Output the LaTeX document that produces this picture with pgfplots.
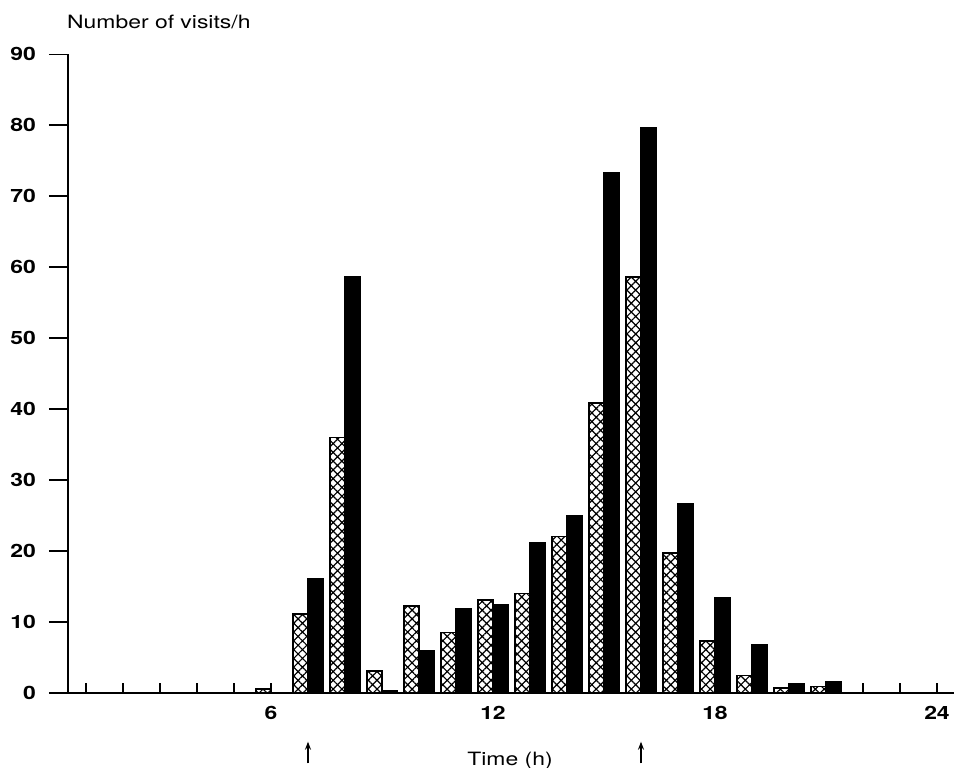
\documentclass[border=0pt]{standalone}
\usepackage{fontspec}
\setmainfont{TeX Gyre Heros}[FakeStretch=1.25]
\usepackage{pgfplots}
\pgfplotsset{compat=1.18}
\usetikzlibrary{patterns,patterns.meta,arrows.meta}
\begin{document}
\begin{tikzpicture}
\pgfplotsset{
  common/.style={
    at={(0,0)}, anchor=south west,
    scale only axis, width=452.5bp, height=319.2bp,
    xmin=0, xmax=24.46, ymin=0, ymax=90,
    tick align=inside,
    tick style={black, line width=0.8bp},
    ticklabel style={font=\fontsize{9.2}{11}\selectfont\bfseries},
    /pgf/number format/assume math mode=true,
    clip=false,
  }
}
% y ticks and labels
\begin{axis}[common,
  axis x line=none, axis y line*=left,
  y axis line style={draw=none},
  major tick length=9.25bp,
  ytick={0,10,...,90},
  yticklabel style={xshift=-3bp},
]
\end{axis}
% main axis with bars
\begin{axis}[common,
  axis x line*=bottom, axis y line=none,
  x axis line style={line width=1bp},
  xtick={6,12,18,24}, minor xtick={1,...,24},
  major tick length=5bp, minor tick length=5bp,
  xticklabel style={yshift=-3bp},
]
\addplot[ybar, bar width=0.4, bar shift=-0.2, draw=black, line width=0.8bp,
  pattern={Hatch[angle=45,distance=3.1bp,line width=0.6bp]}]
  coordinates {(6,0.5) (7,11.1) (8,36.0) (9,3.06) (10,12.2) (11,8.5) (12,13.1) (13,14.0) (14,22.0) (15,40.8) (16,58.6) (17,19.7) (18,7.3) (19,2.4) (20,0.7) (21,0.9)};
\addplot[ybar, bar width=0.4, bar shift=0.2, draw=black, fill=black, line width=0.8bp]
  coordinates {(7,16.0) (8,58.6) (9,0.3) (10,5.9) (11,11.8) (12,12.4) (13,21.1) (14,25.0) (15,73.3) (16,79.6) (17,26.7) (18,13.4) (19,6.7) (20,1.2) (21,1.5)};
\draw[line width=1.1bp] (axis cs:0.51,0) -- (axis cs:0.51,90);
\draw[line width=0.8bp, -{Stealth[length=4bp,width=3bp]}] (axis cs:7,0) ++(0,-35.3bp) -- ++(0,10.8bp);
\draw[line width=0.8bp, -{Stealth[length=4bp,width=3bp]}] (axis cs:16,0) ++(0,-35.3bp) -- ++(0,10.8bp);
\node[anchor=base west, inner sep=0pt, font=\fontsize{9.2}{11}\selectfont, yshift=13bp] at (axis cs:0.48,90) {Number of visits/h};
\node[anchor=base, inner sep=0pt, font=\fontsize{9.2}{11}\selectfont, yshift=-36.2bp] at (axis cs:12.46,0) {Time (h)};
\end{axis}
\pgfresetboundingbox
\path (-24.5bp,-37.65bp) rectangle (452.5bp,346.35bp);
\end{tikzpicture}
\end{document}
